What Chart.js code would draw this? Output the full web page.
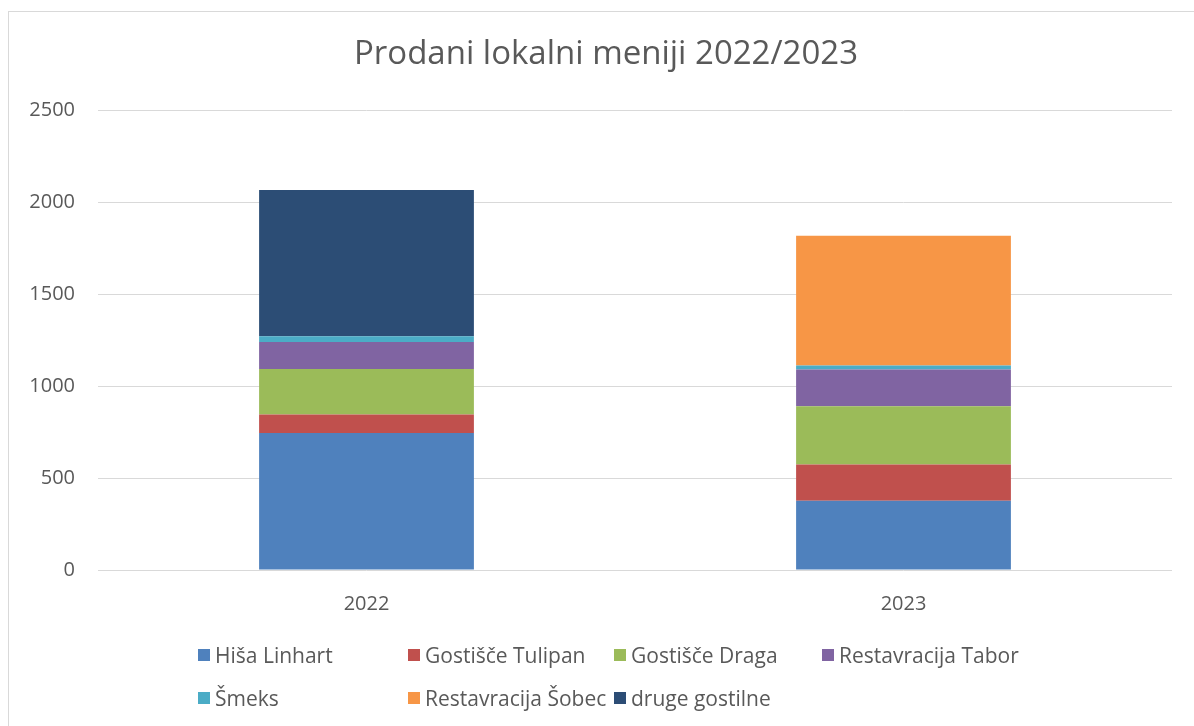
<!DOCTYPE html>
<html>
<head>
<meta charset="utf-8">
<script src="https://cdn.jsdelivr.net/npm/chart.js@4"></script>
<style>
  html, body { margin: 0; padding: 0; background: #fff; }
  body { width: 1194px; height: 726px; position: relative; overflow: hidden; }
  .frame {
    position: absolute; left: 8px; top: 11px; width: 1200px; height: 730px;
    border: 1px solid #d9d9d9; box-sizing: border-box;
  }
  .chart-box { position: absolute; left: 0; top: 0; width: 1194px; height: 726px; }
  .legend {
    position: absolute; left: 198px; top: 641px; width: 880px;
    display: grid; grid-template-columns: 210px 206px 208px 250px;
    row-gap: 15px;
    font-family: "Open Sans", sans-serif; font-size: 21px; color: #595959;
  }
  .legend-item { display: flex; align-items: center; white-space: nowrap; height: 28px; }
  .legend-item .swatch { width: 12px; height: 12px; margin-right: 5px; flex: none; }
</style>
</head>
<body>
<div class="frame"></div>
<div class="chart-box"><canvas id="chart"></canvas></div>
<div class="legend" id="legend"></div>
<script>
const years = ['2022', '2023'];
const restaurants = ['Hiša Linhart', 'Gostišče Tulipan', 'Gostišče Draga', 'Restavracija Tabor',
  'Šmeks', 'Restavracija Šobec', 'druge gostilne'];

const hisaLinhart = [745, 377];
const gostisceTulipan = [100, 197];
const gostisceDraga = [248, 316];
const restavracijaTabor = [146, 199];
const smeks = [31, 22];
const restavracijaSobec = [0, 705];
const drugeGostilne = [795, 0];

const colors = ['#4f81bd', '#c0504d', '#9bbb59', '#8064a2', '#4bacc6', '#f79646', '#2c4d75'];
const seriesValues = [hisaLinhart, gostisceTulipan, gostisceDraga, restavracijaTabor,
  smeks, restavracijaSobec, drugeGostilne];

const textColor = '#595959';
const font = "'Open Sans', sans-serif";

let datasets = restaurants.map((name, i) => ({
  label: name,
  data: seriesValues[i],
  backgroundColor: colors[i],
  stack: 'one',
}));

// centre the title in the frame rather than over the whole canvas
const titleShift = {
  id: 'titleShift',
  afterLayout(chart) {
    chart.titleBlock.left = 40;
  }
};

const config = {
  type: 'bar',
  data: { labels: years, datasets: datasets },
  plugins: [titleShift],
  options: {
    animation: false,
    responsive: false,
    categoryPercentage: 1,
    barPercentage: 0.4,
    layout: { padding: { left: 0, right: 22, top: 0, bottom: 88 } },
    plugins: {
      legend: { display: false },
      tooltip: { enabled: false },
      title: {
        display: true,
        text: 'Prodani lokalni meniji 2022/2023',
        color: textColor,
        font: { family: font, size: 33, weight: 'normal', lineHeight: 1.2 },
        padding: { top: 35, bottom: 35.4 },
      },
    },
    scales: {
      x: {
        stacked: true,
        grid: { display: false, drawTicks: false },
        border: { display: false },
        ticks: { color: textColor, font: { family: font, size: 20 }, padding: 22 },
      },
      y: {
        stacked: true,
        min: 0,
        max: 2500,
        afterFit: (scale) => { scale.width = 98; },
        grid: { color: '#d9d9d9', lineWidth: 1, drawTicks: false },
        border: { display: false },
        ticks: {
          stepSize: 500, color: textColor, font: { family: font, size: 20 }, padding: 23,
          callback: (value) => String(value),
        },
      },
    },
  },
};

const canvas = document.getElementById('chart');
canvas.width = 1194;
canvas.height = 726;
const chart = new Chart(canvas, config);

// legend in columns, like the original
const legend = document.getElementById('legend');
for (let ds of chart.data.datasets) {
  let item = document.createElement('div');
  item.className = 'legend-item';
  item.innerHTML = `<span class="swatch" style="background:${ds.backgroundColor}"></span><span></span>`;
  item.lastChild.textContent = ds.label;
  legend.append(item);
}
</script>
</body>
</html>
